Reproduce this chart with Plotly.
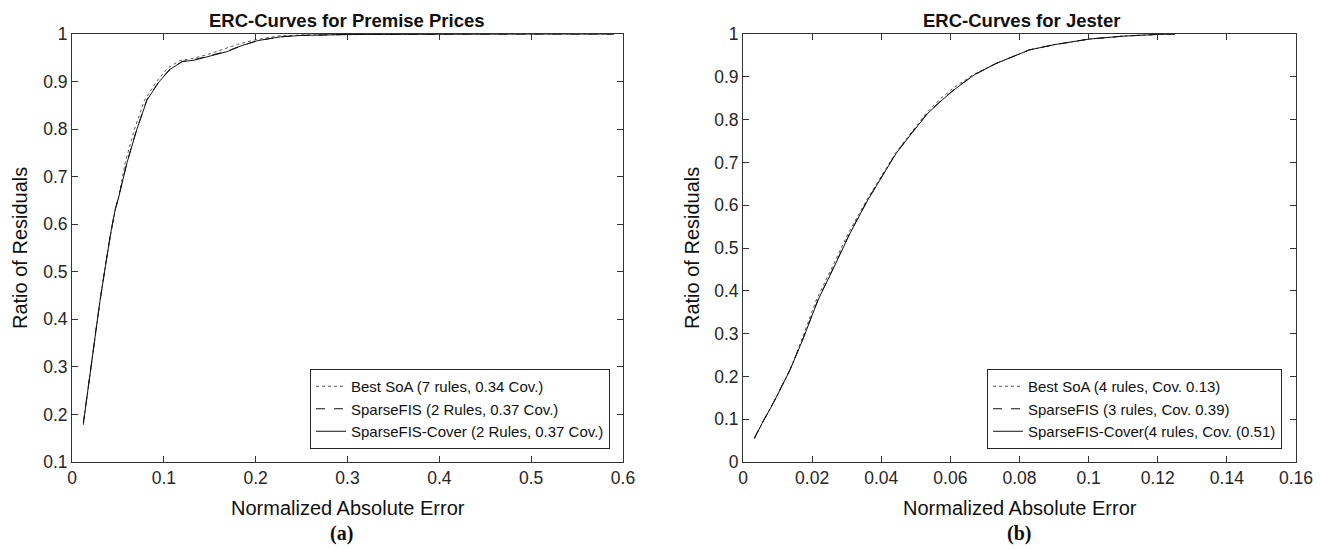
import plotly.graph_objects as go

# ---------------- data ----------------
# (a) Premise Prices
pp_cover_x = [0.0124, 0.015, 0.0215, 0.027, 0.0306, 0.036, 0.042, 0.047, 0.0506, 0.06, 0.0707, 0.0816, 0.095, 0.107, 0.12, 0.133, 0.15, 0.169, 0.184, 0.202, 0.227, 0.25, 0.3, 0.4, 0.5, 0.59]
pp_cover_y = [0.181, 0.22, 0.3075, 0.39, 0.44, 0.51, 0.58, 0.63, 0.655, 0.73, 0.80, 0.861, 0.90, 0.926, 0.942, 0.945, 0.953, 0.963, 0.975, 0.986, 0.994, 0.997, 0.999, 1.0, 1.0, 1.0]
pp_sparse_x = [0.0124, 0.015, 0.0215, 0.027, 0.0306, 0.036, 0.042, 0.047, 0.0506, 0.06, 0.0707, 0.0816, 0.095, 0.107, 0.12, 0.133, 0.15, 0.169, 0.184, 0.202, 0.227, 0.25, 0.3, 0.4, 0.5, 0.59]
pp_sparse_y = [0.182, 0.221, 0.309, 0.391, 0.441, 0.511, 0.581, 0.631, 0.656, 0.731, 0.801, 0.862, 0.901, 0.927, 0.942, 0.946, 0.954, 0.964, 0.975, 0.986, 0.994, 0.997, 0.999, 1.0, 1.0, 1.0]
pp_soa_x = [0.0124, 0.015, 0.0215, 0.027, 0.0306, 0.036, 0.042, 0.047, 0.0506, 0.058, 0.068, 0.079, 0.092, 0.104, 0.117, 0.13, 0.148, 0.165, 0.18, 0.2, 0.225, 0.25, 0.3, 0.4, 0.5, 0.59]
pp_soa_y = [0.178, 0.22, 0.3075, 0.39, 0.44, 0.51, 0.58, 0.63, 0.655, 0.73, 0.80, 0.861, 0.90, 0.928, 0.944, 0.948, 0.957, 0.968, 0.978, 0.988, 0.996, 0.998, 0.999, 1.0, 1.0, 1.0]

# (b) Jester
j_cover_x = [0.0033, 0.0055, 0.0088, 0.0136, 0.0175, 0.0217, 0.026, 0.031, 0.0361, 0.040, 0.0443, 0.049, 0.0535, 0.0575, 0.0616, 0.067, 0.0732, 0.0828, 0.09, 0.10, 0.11, 0.12, 0.125]
j_cover_y = [0.055, 0.09, 0.138, 0.215, 0.29, 0.3785, 0.45, 0.535, 0.612, 0.665, 0.721, 0.77, 0.815, 0.845, 0.873, 0.905, 0.931, 0.9626, 0.975, 0.988, 0.995, 0.999, 1.0]
j_sparse_x = [0.0033, 0.0055, 0.0088, 0.0136, 0.0175, 0.0217, 0.026, 0.031, 0.0361, 0.040, 0.0443, 0.049, 0.0535, 0.0575, 0.0616, 0.067, 0.0732, 0.0828, 0.09, 0.10, 0.11, 0.12, 0.125]
j_sparse_y = [0.056, 0.091, 0.139, 0.216, 0.291, 0.379, 0.451, 0.536, 0.613, 0.666, 0.722, 0.771, 0.816, 0.846, 0.874, 0.905, 0.931, 0.963, 0.975, 0.988, 0.995, 0.999, 1.0]
j_soa_x = [0.0033, 0.0055, 0.0088, 0.0136, 0.0172, 0.0212, 0.0255, 0.0305, 0.0358, 0.0398, 0.0441, 0.0487, 0.053, 0.057, 0.0612, 0.0668, 0.0732, 0.0828, 0.09, 0.10, 0.11, 0.12, 0.125]
j_soa_y = [0.055, 0.09, 0.138, 0.215, 0.29, 0.3785, 0.45, 0.535, 0.612, 0.665, 0.721, 0.77, 0.815, 0.848, 0.876, 0.906, 0.931, 0.9626, 0.975, 0.988, 0.995, 0.999, 1.0]

pp_names = ["Best SoA (7 rules, 0.34 Cov.)", "SparseFIS (2 Rules, 0.37 Cov.)", "SparseFIS-Cover (2 Rules, 0.37 Cov.)"]
j_names = ["Best SoA (4 rules, Cov. 0.13)", "SparseFIS (3 rules, Cov. 0.39)", "SparseFIS-Cover(4 rules, Cov. (0.51)"]

x_ticks_a = [0, 0.1, 0.2, 0.3, 0.4, 0.5, 0.6]
x_ticks_b = [0, 0.02, 0.04, 0.06, 0.08, 0.1, 0.12, 0.14, 0.16]
y_ticks_a = [0.1, 0.2, 0.3, 0.4, 0.5, 0.6, 0.7, 0.8, 0.9, 1]
y_ticks_b = [0, 0.1, 0.2, 0.3, 0.4, 0.5, 0.6, 0.7, 0.8, 0.9, 1]

# ---------------- figure ----------------
W, H = 1321, 549
FONT = "Liberation Sans, Arial, sans-serif"
SERIF = "Liberation Serif, Times New Roman, serif"
fig = go.Figure()

styles = [("dot", "#555555"), ("dash", "#111111"), ("solid", "#111111")]

for (xs, ys), nm, (dash, col) in zip(
        [(pp_soa_x, pp_soa_y), (pp_sparse_x, pp_sparse_y), (pp_cover_x, pp_cover_y)], pp_names, styles):
    fig.add_trace(go.Scatter(x=xs, y=ys, mode="lines", name=nm, xaxis="x", yaxis="y",
                             line=dict(color=col, width=1, dash=dash), legend="legend"))
for (xs, ys), nm, (dash, col) in zip(
        [(j_soa_x, j_soa_y), (j_sparse_x, j_sparse_y), (j_cover_x, j_cover_y)], j_names, styles):
    fig.add_trace(go.Scatter(x=xs, y=ys, mode="lines", name=nm, xaxis="x2", yaxis="y2",
                             line=dict(color=col, width=1, dash=dash), legend="legend2"))

def px(v):
    return v / W

def py(v):
    return 1 - v / H

ax_common = dict(showgrid=False, zeroline=False, showline=True, linecolor="#333333", linewidth=1,
                 mirror="ticks", ticks="inside", ticklen=6, tickcolor="#333333", automargin=False,
                 tickfont=dict(family=FONT, size=17.5, color="#262626"))

yd = [py(462), py(34)]
leg_common = dict(xanchor="right", yanchor="bottom", bgcolor="white", bordercolor="#262626",
                  borderwidth=1, font=dict(family=FONT, size=15, color="#111111"),
                  tracegroupgap=0, itemwidth=30)
fig.update_layout(
    template="none",
    width=W, height=H, margin=dict(l=0, r=0, t=0, b=0, pad=0), autosize=False,
    paper_bgcolor="white", plot_bgcolor="white", font=dict(family=FONT, color="#262626"),
    xaxis=dict(domain=[px(72), px(623)], range=[0, 0.6], tickvals=x_ticks_a,
               ticktext=[f"{v:g}" for v in x_ticks_a], anchor="y", **ax_common),
    yaxis=dict(domain=yd, range=[0.1, 1], tickvals=y_ticks_a,
               ticktext=[f"{v:g}" for v in y_ticks_a], anchor="x", **ax_common),
    xaxis2=dict(domain=[px(743), px(1296)], range=[0, 0.16], tickvals=x_ticks_b,
                ticktext=[f"{v:g}" for v in x_ticks_b], anchor="y2", **ax_common),
    yaxis2=dict(domain=yd, range=[0, 1], tickvals=y_ticks_b,
                ticktext=[f"{v:g}" for v in y_ticks_b], anchor="x2", **ax_common),
    legend=dict(x=px(610), y=py(449), **leg_common),
    legend2=dict(x=px(1282), y=py(449), **leg_common),
    showlegend=True,
)

annots = [
    dict(text="<b>ERC-Curves for Premise Prices</b>", x=px(347), y=py(20), size=18.5, fam=FONT),
    dict(text="<b>ERC-Curves for Jester</b>", x=px(1021), y=py(20), size=18.5, fam=FONT),
    dict(text="Normalized Absolute Error", x=px(348), y=py(508), size=20, fam=FONT),
    dict(text="Normalized Absolute Error", x=px(1020), y=py(508), size=20, fam=FONT),
    dict(text="<b>(a)</b>", x=px(342), y=py(533), size=20, fam=SERIF),
    dict(text="<b>(b)</b>", x=px(1019), y=py(533), size=20, fam=SERIF),
]
for a in annots:
    fig.add_annotation(text=a["text"], x=a["x"], y=a["y"], xref="paper", yref="paper",
                       xanchor="center", yanchor="middle", showarrow=False,
                       font=dict(family=a["fam"], size=a["size"], color="#111111"))
for xp in [px(20), px(692)]:
    fig.add_annotation(text="Ratio of Residuals", x=xp, y=py(248), xref="paper", yref="paper",
                       xanchor="center", yanchor="middle", showarrow=False, textangle=-90,
                       font=dict(family=FONT, size=20, color="#111111"))

fig.write_html("out.html", config={"displayModeBar": False},
               post_script="document.body.style.margin='0px';document.body.style.overflow='hidden';")
